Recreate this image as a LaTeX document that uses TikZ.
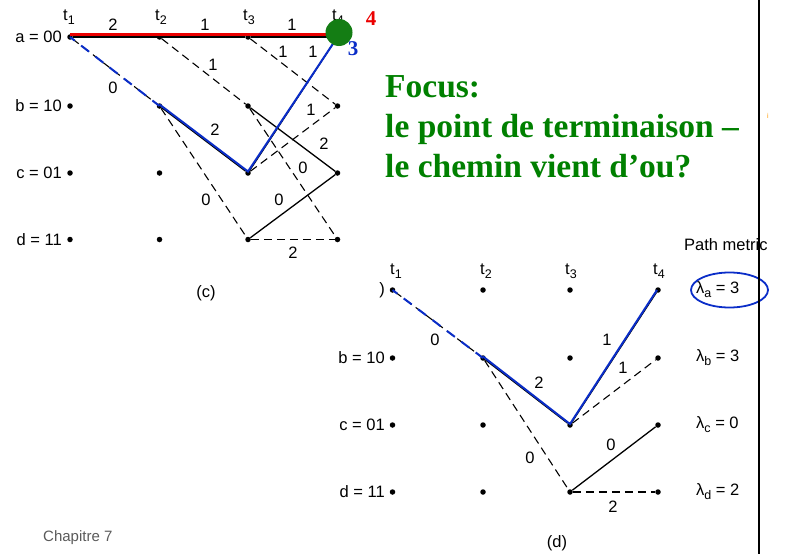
\documentclass[tikz,border=0pt]{standalone}
\usepackage{fontspec}
\setmainfont{Liberation Sans}
\newfontfamily\focusfont{Liberation Serif}

\definecolor{pathblue}{RGB}{10,45,200}
\definecolor{focusgreen}{RGB}{0,128,0}
\definecolor{termgreen}{RGB}{20,125,20}
\definecolor{termred}{RGB}{235,0,0}
\definecolor{footgray}{RGB}{90,90,90}

\newcommand\lowsub[1]{\raisebox{-0.45ex}{\fontsize{12.5}{13}\selectfont #1}}

\begin{document}
\begin{tikzpicture}[
  x=1pt,
  y=-1pt,
  pt/.style={circle,fill=black,inner sep=0pt,minimum size=5.5pt},
  lab/.style={font=\fontsize{16.5}{18}\selectfont,inner sep=1pt},
  br/.style={line width=1.3pt},
  dsh/.style={line width=1.1pt,dash pattern=on 8pt off 5pt},
  sel/.style={draw=pathblue,line width=2pt},
  seldsh/.style={sel,dash pattern=on 10pt off 8pt,dash phase=4pt},
  big/.style={font=\focusfont\bfseries\fontsize{21}{23}\selectfont,inner sep=0pt}
]
\useasboundingbox (0,0) rectangle (785,554);

% trellis (c)
\foreach \r/\y in {a/37,b/106,c/173,d/239.5} {
  \foreach \c/\x in {1/70,2/159.5,3/248,4/337.5}
    \node[pt] (c\r\c) at (\x,\y) {};
}
\foreach \r/\y/\t in {a/37/a = 00,b/106/b = 10,c/173/c = 01,d/239.5/d = 11}
  \node[lab,anchor=east] (lc\r) at (63,\y) {\t};
\foreach \c/\x in {1/69,2/161,3/249,4/338}
  \node[lab] (tc\c) at (\x,17) {t\lowsub{\c}};

\draw[br] (ca1) -- (ca2) -- (ca3) -- (ca4);
\draw[dsh] (ca1) -- (cb2);
\draw[dsh] (ca2) -- (cb3);
\draw[dsh] (ca3) -- (cb4);
\draw[br] (cb2) -- (cc3);
\draw[dsh] (cb2) -- (cd3);
\draw[br] (cb3) -- (cc4);
\draw[dsh] (cb3) -- (cd4);
\draw[br] (cc3) -- (ca4);
\draw[dsh] (cc3) -- (cb4);
\draw[br] (cd3) -- (cc4);
\draw[dsh] (cd3) -- (cd4);

\draw[termred,line width=2.8pt] ([yshift=2.5pt]ca1.center) -- ([yshift=2.5pt]ca4.center);
\draw[seldsh] (ca1.center) -- (cb2.center);
\draw[sel] ([yshift=1.5pt]cb2.center) -- ([yshift=1.5pt]cc3.center) -- (ca4.center);
\node[circle,fill=termgreen,minimum size=27pt,inner sep=0pt] (goal) at (339,32.5) {};
\node[big,text=termred] (cost4) at (371,19) {4};
\node[big,text=pathblue] (cost3) at (353,49) {3};

\node[lab] (wc1) at (113,25) {2};
\node[lab] (wc2) at (205,25) {1};
\node[lab] (wc3) at (292,25) {1};
\node[lab] (wc4) at (283,52) {1};
\node[lab] (wc5) at (313,52) {1};
\node[lab] (wc6) at (213,65) {1};
\node[lab] (wc7) at (113,88) {0};
\node[lab] (wc8) at (215,130) {2};
\node[lab] (wc9) at (311,110) {1};
\node[lab] (wc10) at (324,144) {2};
\node[lab] (wc11) at (303,168) {0};
\node[lab] (wc12) at (206,200) {0};
\node[lab] (wc13) at (279,200) {0};
\node[lab] (wc14) at (293,253) {2};
\node[lab] (capc) at (206,293) {(c)};

% trellis (d)
\foreach \r/\y in {a/290,b/358,c/425,d/492} {
  \foreach \c/\x in {1/392.5,2/483,3/570,4/658}
    \node[pt] (d\r\c) at (\x,\y) {};
}
\node[lab,anchor=east] (lda) at (386,290) {)};
\foreach \r/\y/\t in {b/358/b = 10,c/425/c = 01,d/492/d = 11}
  \node[lab,anchor=east] (ld\r) at (386,\y) {\t};
\foreach \c/\x in {1/396,2/486,3/571,4/659}
  \node[lab] (td\c) at (\x,271) {t\lowsub{\c}};

\draw[dsh] (da1) -- (db2);
\draw[br] (db2) -- (dc3);
\draw[dsh] (db2) -- (dd3);
\draw[br] (dc3) -- (da4);
\draw[dsh] (dc3) -- (db4);
\draw[br] (dd3) -- (dc4);
\draw[dsh] (dd3) -- (dd4);

\draw[seldsh] (da1.center) -- (db2.center);
\draw[sel] ([yshift=1.5pt]db2.center) -- ([yshift=1pt]dc3.center) -- ([xshift=-1pt]da4.center);

\node[lab] (wd1) at (435,340) {0};
\node[lab] (wd2) at (539,383) {2};
\node[lab] (wd3) at (530,458) {0};
\node[lab] (wd4) at (607,340) {1};
\node[lab] (wd5) at (623,368) {1};
\node[lab] (wd6) at (611,445) {0};
\node[lab] (wd7) at (613,507) {2};
\node[lab] (capd) at (557,543) {(d)};

\node[lab,anchor=west] (metric) at (683,245) {Path metric};
\foreach \r/\y/\v in {a/290/3,b/358/3,c/425/0,d/492/2}
  \node[lab,anchor=west] (m\r) at (695,\y) {λ\lowsub{\r} = \v};
\draw[pathblue,line width=1.8pt] (729.5,290) ellipse[x radius=38.5,y radius=17.5];

% text
\node[anchor=north west,align=left,inner sep=0pt,text=focusgreen,
  font=\focusfont\bfseries\fontsize{33.5}{40}\selectfont] (focus) at (385,75)
  {Focus:\\le point de terminaison –\\le chemin vient d’ou?};
\node[anchor=west,inner sep=0pt,text=footgray,font=\fontsize{15}{17}\selectfont] (foot) at (43,538) {Chapitre 7};
\node[inner sep=0pt,text=orange!80!yellow,font=\fontsize{7}{8}\selectfont] (dot) at (768,116) {i};

\coordinate (rtop) at (759,0);
\coordinate (rbot) at (759,554);
\draw[line width=2pt] (rtop) -- (rbot);
\end{tikzpicture}
\end{document}
